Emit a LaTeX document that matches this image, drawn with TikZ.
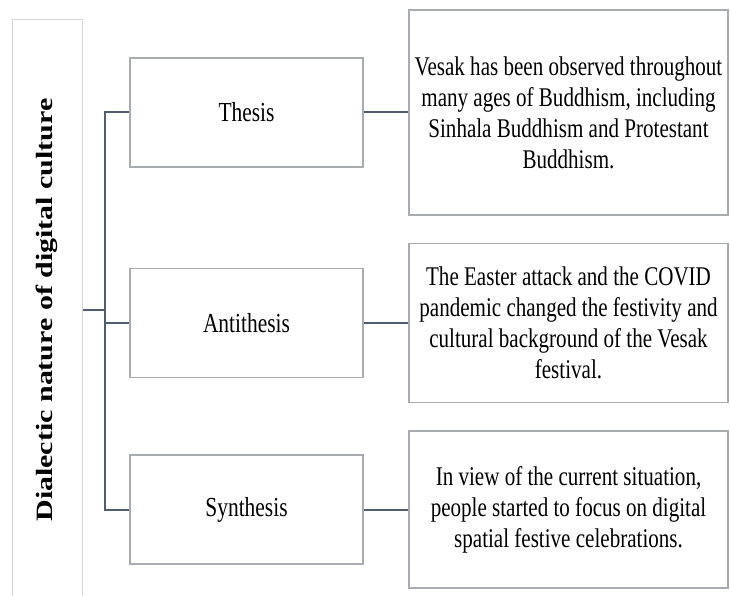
\documentclass[tikz,border=0pt]{standalone}
\usepackage{fontspec}
\usepackage{graphicx}
\usepackage{tikz}
\usetikzlibrary{positioning}
\setmainfont{Liberation Serif}
\newfontfamily\notefont{Liberation Serif}[FakeStretch=0.78]
\newfontfamily\sidefont{Liberation Serif}[FakeStretch=1.28]
\definecolor{boxgray}{HTML}{A8ACB0}
\definecolor{sidegray}{HTML}{D6D6D6}
\definecolor{linkblue}{HTML}{4E5D70}

\begin{document}
\begin{tikzpicture}[x=1pt, y=-1pt, node distance=322pt, on grid,
    stage/.style={draw=boxgray, line width=1.3pt, minimum width=233pt, minimum height=109pt,
        font=\notefont\fontsize{27.5pt}{33pt}\selectfont},
    note/.style={draw=boxgray, line width=1.3pt, minimum width=319pt, inner sep=2pt, align=center,
        font=\notefont\fontsize{27pt}{31pt}\selectfont},
    link/.style={draw=linkblue, line width=2pt}]
    \useasboundingbox (0,0) rectangle (730,596);

    \node[draw=sidegray, line width=1pt, minimum width=70pt, minimum height=580pt, inner sep=0pt] (dnc) at (47,310)
        {\rotatebox{90}{\sidefont\bfseries\fontsize{23.4pt}{26pt}\selectfont Dialectic nature of digital culture}};
    \coordinate[right=58pt of dnc] (split);

    \node[stage] (th) at (246.5,112.5) {Thesis};
    \node[stage] (an) at (246.5,323) {Antithesis};
    \node[stage] (sy) at (246.5,509.5) {Synthesis};

    \node[note, minimum height=205pt] (th-d) [right=of th]
        {Vesak has been observed throughout\\ many ages of Buddhism, including\\ Sinhala Buddhism and Protestant\\ Buddhism.};
    \node[note, minimum height=159pt] (an-d) [right=of an]
        {The Easter attack and the COVID\\ pandemic changed the festivity and\\ cultural background of the Vesak\\ festival.};
    \node[note, minimum height=157pt] (sy-d) [right=of sy]
        {In view of the current situation,\\ people started to focus on digital\\ spatial festive celebrations.};

    \draw[link] (dnc.east) -- (split);
    \draw[link] (split) |- (th.west);
    \draw[link] (split) |- (an.west);
    \draw[link] (split) |- (sy.west);
    \draw[link] (th.east) -- (th-d.west);
    \draw[link] (an.east) -- (an-d.west);
    \draw[link] (sy.east) -- (sy-d.west);
\end{tikzpicture}
\end{document}
